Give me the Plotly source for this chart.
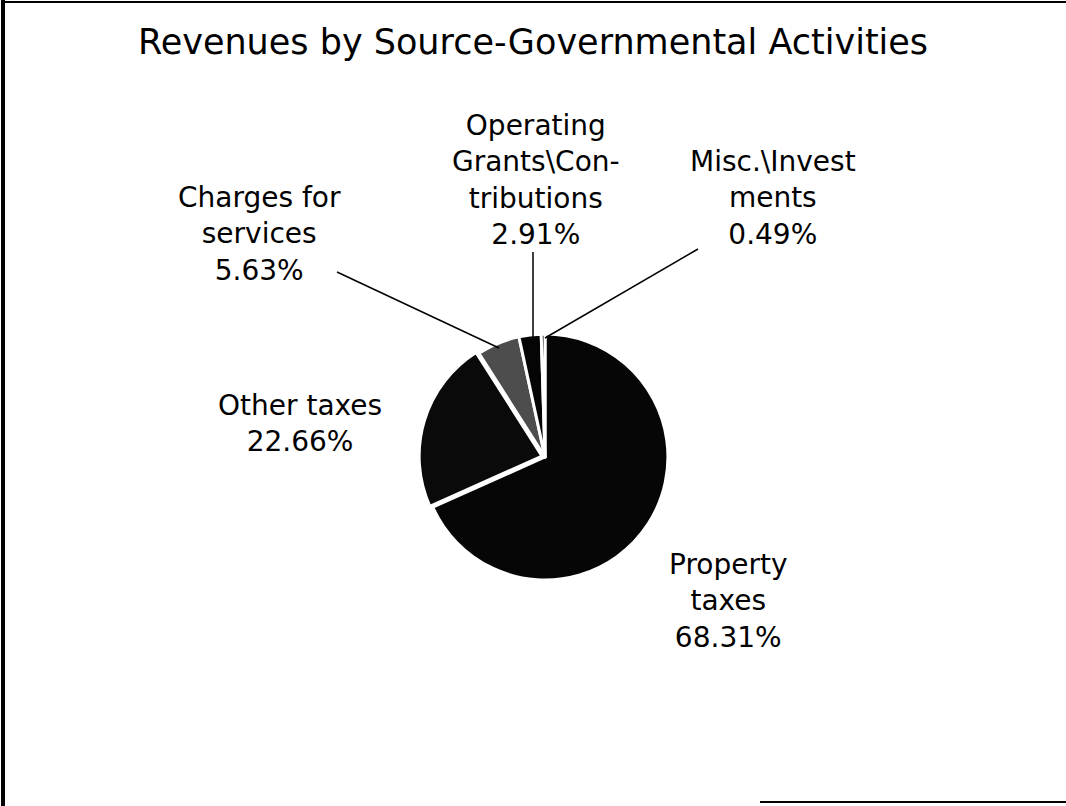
import plotly.graph_objects as go

# ---- data ----
labels = ["Property taxes", "Other taxes", "Charges for services",
          "Operating Grants\\Contributions", "Misc.\\Investments"]
label_text = ["Property<br>taxes", "Other taxes", "Charges for<br>services",
              "Operating<br>Grants\\Con-<br>tributions", "Misc.\\Invest<br>ments"]
values = [68.31, 22.66, 5.63, 2.91, 0.49]
title_text = "Revenues by Source-Governmental Activities"

W, H = 1066, 806
FONT = "DejaVu Sans"

def px(x):
    return x / W

def py(y):
    return 1 - y / H

# pie geometry (pixels)
cx, cy, r = 545, 457, 126

fig = go.Figure()
fig.add_trace(go.Pie(
    labels=labels,
    values=values,
    sort=False,
    direction="clockwise",
    rotation=0,
    textinfo="none",
    hoverinfo="label+percent",
    showlegend=False,
    pull=[0, 0.025, 0, 0, 0],
    marker=dict(
        colors=["#060606", "#0a0a0a", "#4d4d4d", "#050505", "#050505"],
        line=dict(color="white", width=3),
    ),
    domain=dict(x=[px(cx - r), px(cx + r)], y=[py(cy + r), py(cy - r)]),
))

# label positions (pixel centres) and leader lines - layout only
label_pos = [(728, 601), (300, 423), (259, 234), (536, 180), (773, 198)]
leaders = [None, None, ((337, 272), (499, 348)), ((533, 252), (533, 337)),
           ((698, 249), (545, 338))]

annotations = []
for lt, v, (x, y) in zip(label_text, values, label_pos):
    annotations.append(dict(
        x=px(x), y=py(y), xref="paper", yref="paper",
        text=f"{lt}<br>{v:.2f}%", showarrow=False,
        xanchor="center", yanchor="middle", align="center",
        font=dict(family=FONT, size=28, color="black"),
    ))

shapes = []
for ld in leaders:
    if ld is None:
        continue
    (x0, y0), (x1, y1) = ld
    shapes.append(dict(type="line", xref="paper", yref="paper",
                       x0=px(x0), y0=py(y0), x1=px(x1), y1=py(y1),
                       line=dict(color="black", width=1.5)))

# scanned frame edges
shapes += [
    dict(type="line", xref="paper", yref="paper", x0=px(3), y0=py(2), x1=1, y1=py(2),
         line=dict(color="black", width=2)),
    dict(type="line", xref="paper", yref="paper", x0=px(3), y0=py(0), x1=px(3), y1=0,
         line=dict(color="black", width=4)),
    dict(type="line", xref="paper", yref="paper", x0=px(760), y0=py(802), x1=1, y1=py(802),
         line=dict(color="black", width=2)),
]

fig.update_layout(
    width=W, height=H,
    margin=dict(l=0, r=0, t=0, b=0),
    paper_bgcolor="white", plot_bgcolor="white",
    title=dict(text=title_text, x=0.5, xanchor="center", y=py(42), yanchor="middle",
               yref="container",
               font=dict(family=FONT, size=35, color="black")),
    annotations=annotations,
    shapes=shapes,
)

fig.write_html("out.html",
               config={"displayModeBar": False},
               post_script="document.body.style.margin='0';document.body.style.overflow='hidden';")
